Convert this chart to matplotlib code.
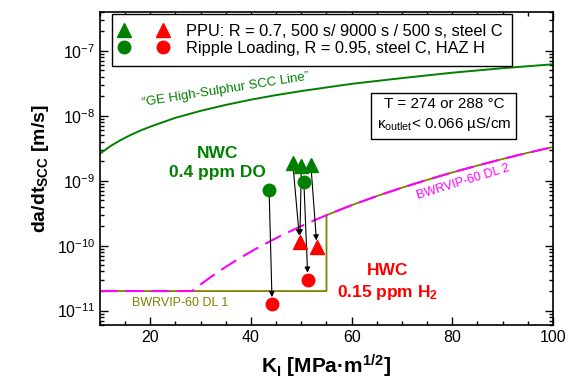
import matplotlib
matplotlib.use('Agg')
import matplotlib.pyplot as plt
from matplotlib.ticker import LogLocator, MultipleLocator, NullFormatter
from matplotlib.legend_handler import HandlerTuple
from matplotlib.lines import Line2D

plt.rcParams['font.family'] = ['Liberation Sans', 'DejaVu Sans']
plt.rcParams['mathtext.fontset'] = 'custom'
plt.rcParams['mathtext.rm'] = 'Liberation Sans'
plt.rcParams['mathtext.it'] = 'Liberation Sans:italic'
plt.rcParams['mathtext.bf'] = 'Liberation Sans:bold'
plt.rcParams['mathtext.default'] = 'regular'

# "GE High-Sulphur SCC Line"
ge_k = [10, 12, 14, 16, 18, 20, 25, 30, 35, 40, 45, 50, 60, 70, 80, 90, 100]
ge_rate = [2.6e-9, 3.38e-9, 4.18e-9, 5.02e-9, 5.9e-9, 6.8e-9, 9.3e-9, 1.19e-8,
           1.47e-8, 1.77e-8, 2.08e-8, 2.4e-8, 3.1e-8, 3.8e-8, 4.6e-8, 5.4e-8, 6.2e-8]

# BWRVIP-60 DL 2 (dashed magenta)
dl2_k = [10, 28.3, 29, 30, 32, 34, 36, 38, 40, 42, 44, 46, 48, 50, 52.5, 55,
         57.5, 60, 65, 70, 75, 80, 85, 90, 95, 100]
dl2_rate = [2.0e-11, 2.0e-11, 2.2e-11, 2.53e-11, 3.28e-11, 4.2e-11, 5.28e-11,
            6.58e-11, 8.1e-11, 9.9e-11, 1.19e-10, 1.43e-10, 1.69e-10, 2.0e-10,
            2.44e-10, 2.94e-10, 3.52e-10, 4.2e-10, 5.8e-10, 7.8e-10, 1.03e-9,
            1.34e-9, 1.71e-9, 2.16e-9, 2.69e-9, 3.3e-9]

# BWRVIP-60 DL 1 (olive): flat, step at K = 55, then follows DL 2
dl1_k = [10, 55, 55, 57.5, 60, 65, 70, 75, 80, 85, 90, 95, 100]
dl1_rate = [2.0e-11, 2.0e-11, 2.94e-10, 3.52e-10, 4.2e-10, 5.8e-10, 7.8e-10,
            1.03e-9, 1.34e-9, 1.71e-9, 2.16e-9, 2.69e-9, 3.3e-9]

# PPU tests (triangles): NWC (green) -> HWC (red)
ppu_nwc_k = [48.3, 50.0, 51.9]
ppu_nwc_rate = [1.87e-9, 1.66e-9, 1.72e-9]
ppu_hwc_k = [49.7, 53.1]
ppu_hwc_rate = [1.13e-10, 9.4e-11]

# Ripple loading (circles): NWC (green) -> HWC (red)
rip_nwc_k = [43.6, 50.5]
rip_nwc_rate = [7.1e-10, 9.7e-10]
rip_hwc_k = [44.2, 51.3]
rip_hwc_rate = [1.26e-11, 3.0e-11]

# arrows: nwc index -> hwc index
ppu_arrows = [(0, 0), (1, 0), (2, 1)]
rip_arrows = [(0, 0), (1, 1)]

green = '#008000'
red = '#ff0000'
magenta = '#ff00ff'
olive = '#808000'

fig = plt.figure(figsize=(5.77, 3.86), dpi=100)
ax = fig.add_axes([0.1733, 0.158, 0.7851, 0.8117])

ax.plot(ge_k, ge_rate, color=green, lw=1.4)
ax.plot(dl1_k, dl1_rate, color=olive, lw=1.3)
ax.plot(dl2_k, dl2_rate, color=magenta, lw=1.5, dashes=(8.5, 3.8))

# arrows
for i, j in ppu_arrows:
    ax.annotate('', xy=(ppu_hwc_k[j], ppu_hwc_rate[j]),
                xytext=(ppu_nwc_k[i], ppu_nwc_rate[i]),
                arrowprops=dict(arrowstyle='-|>', color='black', lw=0.8,
                                mutation_scale=8, shrinkA=3, shrinkB=5))
for i, j in rip_arrows:
    ax.annotate('', xy=(rip_hwc_k[j], rip_hwc_rate[j]),
                xytext=(rip_nwc_k[i], rip_nwc_rate[i]),
                arrowprops=dict(arrowstyle='-|>', color='black', lw=0.8,
                                mutation_scale=8, shrinkA=4, shrinkB=5))

ax.plot(ppu_nwc_k, ppu_nwc_rate, '^', color=green, ms=10, ls='none', zorder=5)
ax.plot(ppu_hwc_k, ppu_hwc_rate, '^', color=red, ms=10, ls='none', zorder=5)
ax.plot(rip_nwc_k, rip_nwc_rate, 'o', color=green, ms=9, ls='none', zorder=5)
ax.plot(rip_hwc_k, rip_hwc_rate, 'o', color=red, ms=9, ls='none', zorder=5)

ax.set_yscale('log')
ax.set_xlim(10, 100)
ax.set_ylim(6e-12, 4e-7)

ax.xaxis.set_major_locator(MultipleLocator(20))
ax.xaxis.set_minor_locator(MultipleLocator(5))
ax.yaxis.set_major_locator(LogLocator(base=10, numticks=20))
ax.yaxis.set_minor_locator(LogLocator(base=10, subs=range(2, 10), numticks=20))
ax.yaxis.set_minor_formatter(NullFormatter())
ax.tick_params(which='both', direction='in', top=True, right=True, labelsize=11.5, width=1)
ax.tick_params(which='major', length=5.5)
ax.tick_params(which='minor', length=3)
for s in ax.spines.values():
    s.set_linewidth(1.2)

ax.set_xlabel(r'K$_\mathbf{I}$ [MPa·m$^\mathbf{1/2}$]', fontsize=15, fontweight='bold', labelpad=6)
ax.set_ylabel(r'da/dt$_\mathbf{SCC}$ [m/s]', fontsize=14, fontweight='bold', labelpad=4)

# legend with two markers per row
g_tri = Line2D([], [], marker='^', color=green, ms=10, ls='none')
r_tri = Line2D([], [], marker='^', color=red, ms=10, ls='none')
g_cir = Line2D([], [], marker='o', color=green, ms=9, ls='none')
r_cir = Line2D([], [], marker='o', color=red, ms=9, ls='none')
leg = ax.legend([(g_tri, r_tri), (g_cir, r_cir)],
                ['PPU: R = 0.7, 500 s/ 9000 s / 500 s, steel C',
                 'Ripple Loading, R = 0.95, steel C, HAZ H'],
                handler_map={tuple: HandlerTuple(ndivide=None, pad=2.1)},
                handlelength=2.7, handletextpad=1.2, borderpad=0.6,
                labelspacing=0.15, fontsize=11.8, loc='upper left',
                bbox_to_anchor=(0.026, 0.993), borderaxespad=0,
                fancybox=False, framealpha=1, edgecolor='black')
leg.get_frame().set_linewidth(1.0)

# annotations
ax.text(0.260, 0.517, 'NWC\n0.4 ppm DO', transform=ax.transAxes, color=green,
        fontsize=12.5, fontweight='bold', ha='center', va='center', linespacing=1.3)
ax.text(0.634, 0.136, 'HWC\n0.15 ppm H$_\\mathbf{2}$', transform=ax.transAxes, color=red,
        fontsize=12.5, fontweight='bold', ha='center', va='center', linespacing=1.3)
ax.text(0.070, 0.070, 'BWRVIP-60 DL 1', transform=ax.transAxes, color=olive,
        fontsize=9, ha='left', va='center')
ax.text(0.801, 0.456, 'BWRVIP-60 DL 2', transform=ax.transAxes, color=magenta,
        fontsize=9, ha='center', va='center', rotation=17)
ax.text(0.277, 0.750, '\u201cGE High-Sulphur SCC Line\u201d', transform=ax.transAxes,
        color=green, fontsize=9.5, ha='center', va='center', rotation=9)
ax.text(0.759, 0.670, 'T = 274 or 288 \u00b0C\n\u03ba$_{outlet}$< 0.066 \u00b5S/cm',
        transform=ax.transAxes, fontsize=11, ha='center', va='center',
        multialignment='center', linespacing=1.35,
        bbox=dict(boxstyle='square,pad=0.35', facecolor='white', edgecolor='black', lw=1.0))

fig.savefig('out.png', dpi=100)
